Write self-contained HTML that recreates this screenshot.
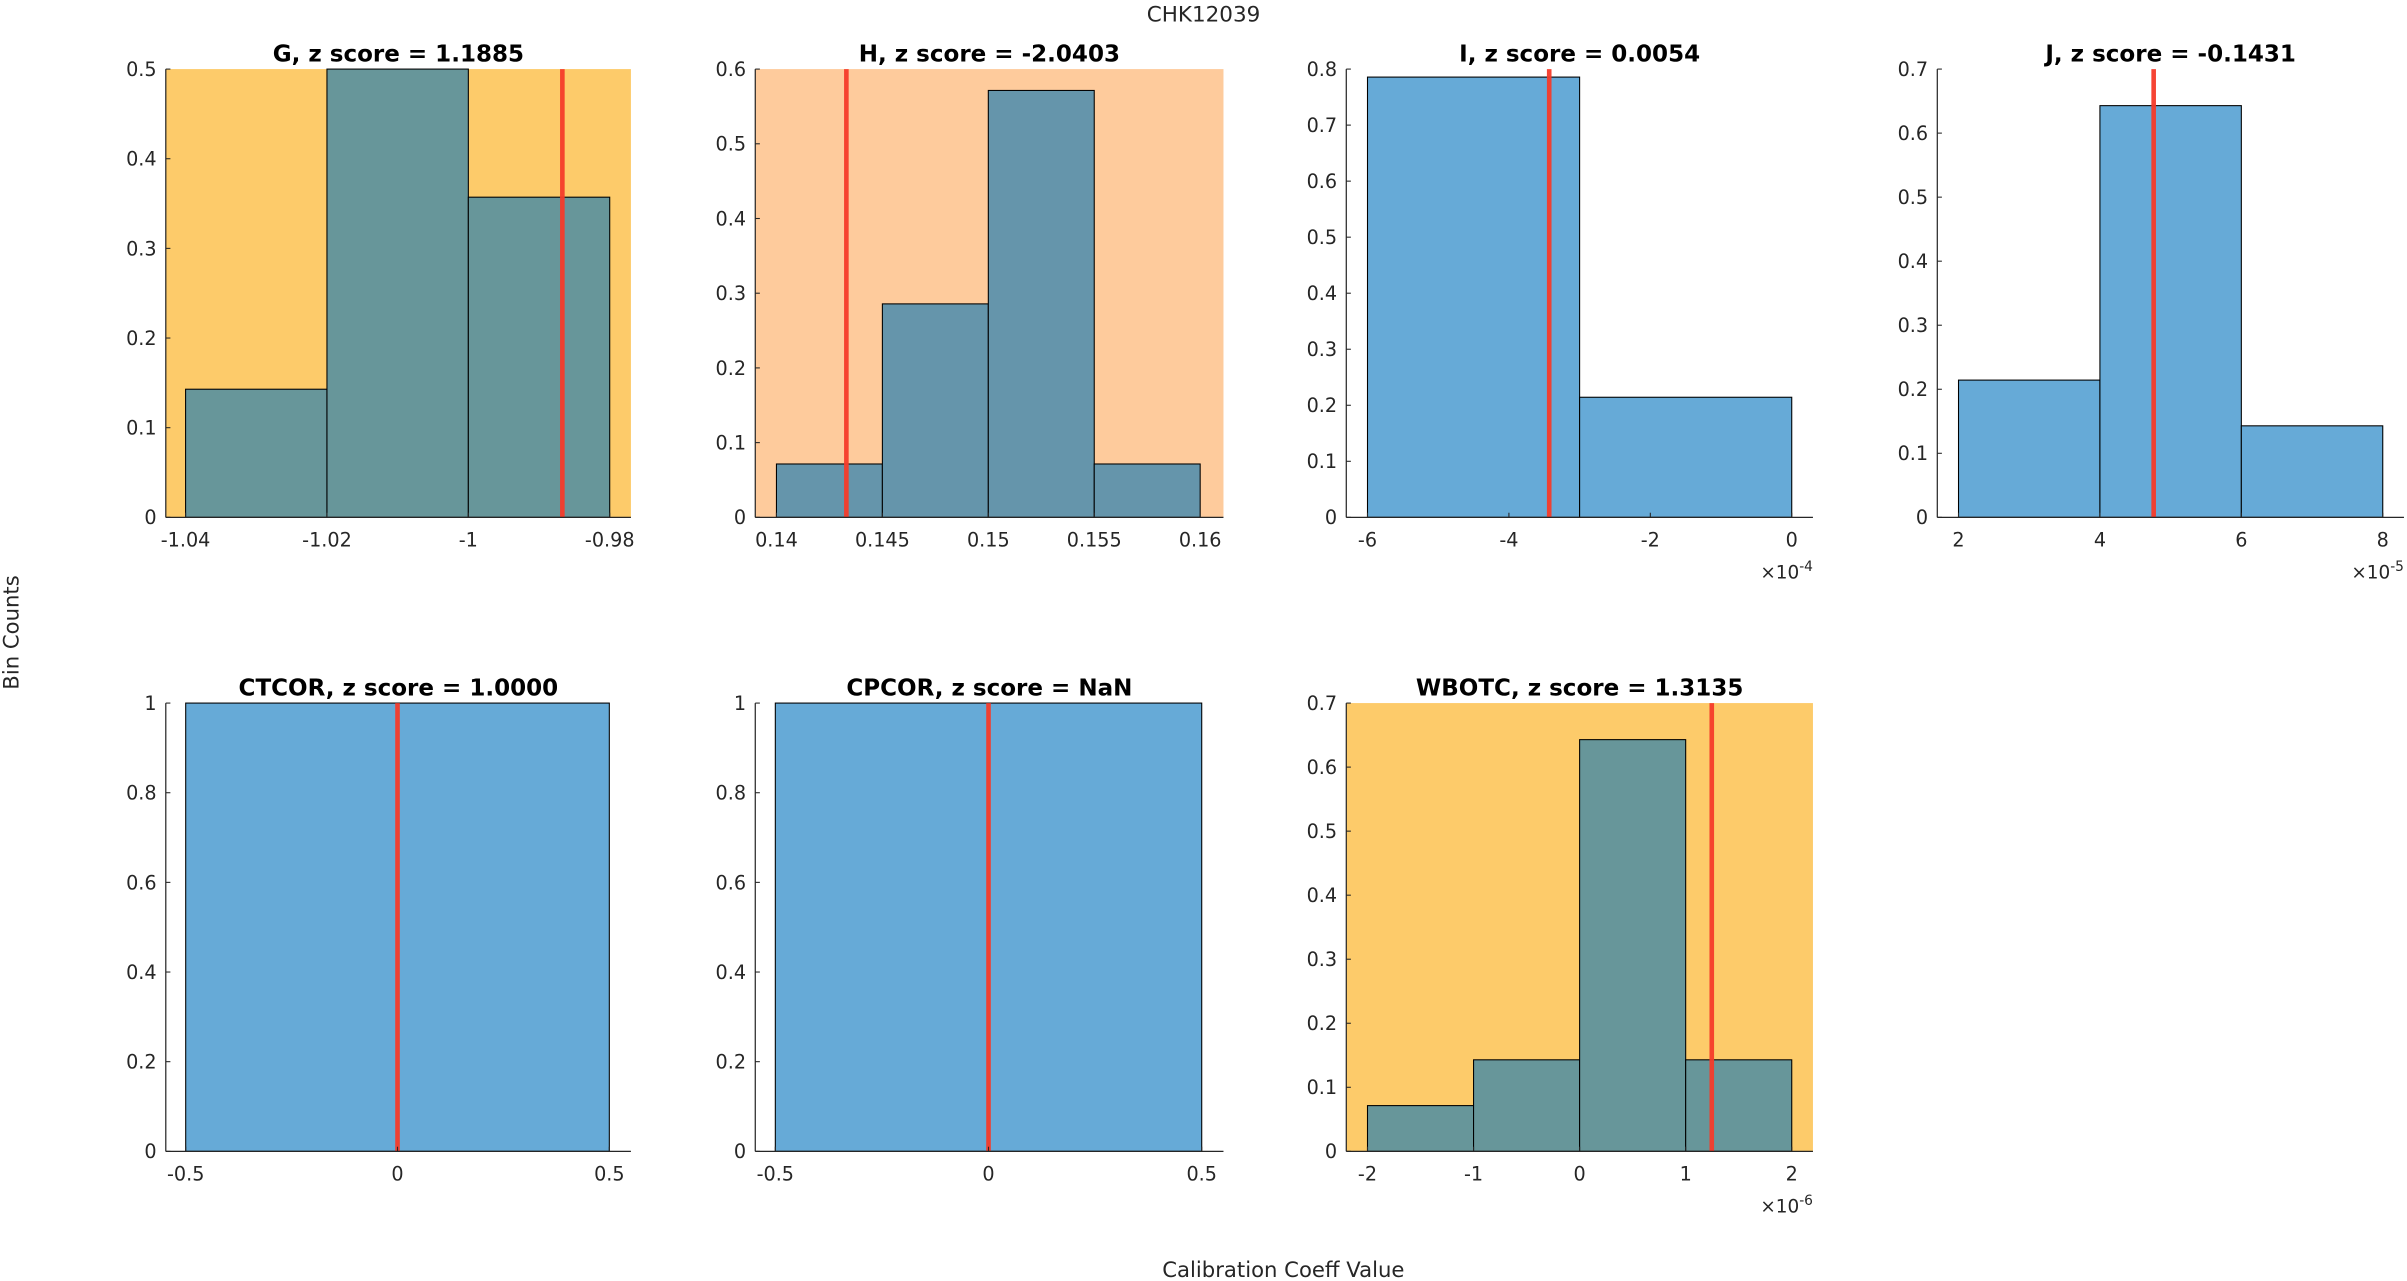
<!DOCTYPE html>
<html><head><meta charset="utf-8">
<style>
html,body{margin:0;padding:0;background:#fff;}
svg{display:block;font-family:"DejaVu Sans","Liberation Sans",sans-serif;}
</style></head>
<body>
<svg id="fig" width="2407" height="1281" viewBox="0 0 2407 1281">
<g id="root" transform="scale(1.5351)"></g>
</svg>
<script>
// ---- chart data ----
const panelNames = ["G","H","I","J","CTCOR","CPCOR","WBOTC"];
const panelTitles = ["G, z score = 1.1885","H, z score = -2.0403","I, z score = 0.0054","J, z score = -0.1431","CTCOR, z score = 1.0000","CPCOR, z score = NaN","WBOTC, z score = 1.3135"];
const binEdgesG = [-1.04,-1.02,-1.00,-0.98];
const binValuesG = [0.1429,0.5,0.3571];
const binEdgesH = [0.14,0.145,0.15,0.155,0.16];
const binValuesH = [0.0714,0.2857,0.5714,0.0714];
const binEdgesI = [-6,-3,0];
const binValuesI = [0.7857,0.2143];
const binEdgesJ = [2,4,6,8];
const binValuesJ = [0.2143,0.6429,0.1429];
const binEdgesCT = [-0.5,0.5];
const binValuesCT = [1];
const binEdgesCP = [-0.5,0.5];
const binValuesCP = [1];
const binEdgesW = [-2,-1,0,1,2];
const binValuesW = [0.0714,0.1429,0.6429,0.1429];
const markerValues = [-0.9867,0.1433,-3.43,4.76,0,0,1.246];
const xLimits = [[-1.0428,-0.977],[0.139,0.1611],[-6.3,0.3],[1.7,8.3],[-0.547,0.551],[-0.547,0.551],[-2.2,2.2]];
const yMaxes = [0.5,0.6,0.8,0.7,1,1,0.7];
const xTickValues = [[-1.04,-1.02,-1,-0.98],[0.14,0.145,0.15,0.155,0.16],[-6,-4,-2,0],[2,4,6,8],[-0.5,0,0.5],[-0.5,0,0.5],[-2,-1,0,1,2]];
const xTickLabels = [["-1.04","-1.02","-1","-0.98"],["0.14","0.145","0.15","0.155","0.16"],["-6","-4","-2","0"],["2","4","6","8"],["-0.5","0","0.5"],["-0.5","0","0.5"],["-2","-1","0","1","2"]];
const yTickSteps = [0.1,0.1,0.1,0.1,0.2,0.2,0.1];
const exponents = ["","","-4","-5","","","-6"];
const bgColors = ["#fdcb6a","#fecb9c","none","none","none","none","#fdcb6a"];
const barColors = ["#67969a","#6595ab","#66aad7","#66aad7","#66aad7","#66aad7","#67969a"];
// ---- layout ----
const allEdges=[binEdgesG,binEdgesH,binEdgesI,binEdgesJ,binEdgesCT,binEdgesCP,binEdgesW];
const allValues=[binValuesG,binValuesH,binValuesI,binValuesJ,binValuesCT,binValuesCP,binValuesW];
const colL=[108,492,877,1262], W=[303,305,304,304];
const rowT=[45,458], H=292;
const NS="http://www.w3.org/2000/svg";
const root=document.getElementById('root');
function mk(tag,attrs,parent,text){const e=document.createElementNS(NS,tag);for(const k in attrs)e.setAttribute(k,attrs[k]);if(text!==undefined)e.textContent=text;(parent||root).appendChild(e);return e;}
function fmtY(v,step){return (Math.round(v*10)/10).toString();}

const sup=mk('text',{x:784,y:14,'text-anchor':'middle','font-size':14,fill:'#262626'},root,'CHK12039');


const yl=mk('text',{x:0,y:0,transform:'translate(12,412) rotate(-90)','text-anchor':'middle','font-size':13.8,fill:'#262626'},root,'Bin Counts');


const xl=mk('text',{x:836,y:832,'text-anchor':'middle','font-size':13.8,fill:'#262626'},root,'Calibration Coeff Value');



for(let p=0;p<7;p++){
  const c=p%4, r=Math.floor(p/4);
  const L=colL[c], T=rowT[r], w=W[c], B=T+H;
  const [x0,x1]=xLimits[p], ymax=yMaxes[p];
  const sx=v=>L+(v-x0)/(x1-x0)*w;
  const sy=v=>B-v/ymax*H;
  const g=mk('g',{});
  
  
  if(bgColors[p]!=='none'){
    const bg=mk('rect',{x:L,y:T,width:w,height:H,fill:bgColors[p]},g);
    
    
  }
  const edges=allEdges[p], vals=allValues[p];
  for(let i=0;i<vals.length;i++){
    const bx=sx(edges[i]), bx2=sx(edges[i+1]), by=sy(vals[i]);
    const bar=mk('rect',{x:bx,y:by,width:bx2-bx,height:B-by,fill:barColors[p],stroke:'#000','stroke-width':0.7},g);
    
    
  }
  const mx=sx(markerValues[p]);
  const ml=mk('line',{x1:mx,x2:mx,y1:T,y2:B,stroke:'#f63b2a','stroke-width':3,'stroke-opacity':0.95},g);
  
  
  mk('line',{x1:L,x2:L,y1:T,y2:B,stroke:'#262626','stroke-width':0.8},g);
  mk('line',{x1:L,x2:L+w,y1:B,y2:B,stroke:'#262626','stroke-width':0.8},g);
  const step=yTickSteps[p];
  const n=Math.round(ymax/step);
  for(let k=0;k<=n;k++){
    const v=k*step, y=sy(v);
    mk('line',{x1:L,x2:L+3,y1:y,y2:y,stroke:'#262626','stroke-width':0.7},g);
    const t=mk('text',{x:L-6,y:y+4.5,'text-anchor':'end','font-size':12.5,fill:'#262626'},g,fmtY(v,step));
    
    
  }
  xTickValues[p].forEach((v,k)=>{
    const x=sx(v);
    mk('line',{x1:x,x2:x,y1:B,y2:B-3,stroke:'#262626','stroke-width':0.7},g);
    const t=mk('text',{x:x,y:B+19,'text-anchor':'middle','font-size':12.5,fill:'#262626'},g,xTickLabels[p][k]);
    
    
  });
  if(exponents[p]){
    const e=mk('text',{x:L+w,y:B+40,'text-anchor':'end','font-size':12,fill:'#262626'},g);
    
    
    mk('tspan',{},e,'\u00d710');
    mk('tspan',{dy:-5,'font-size':9},e,exponents[p]);
  }
  const tt=mk('text',{x:L+w/2,y:T-5,'text-anchor':'middle','font-size':15,'font-weight':'bold',fill:'#000'},g,panelTitles[p]);
  
  
}
</script>
</body></html>
